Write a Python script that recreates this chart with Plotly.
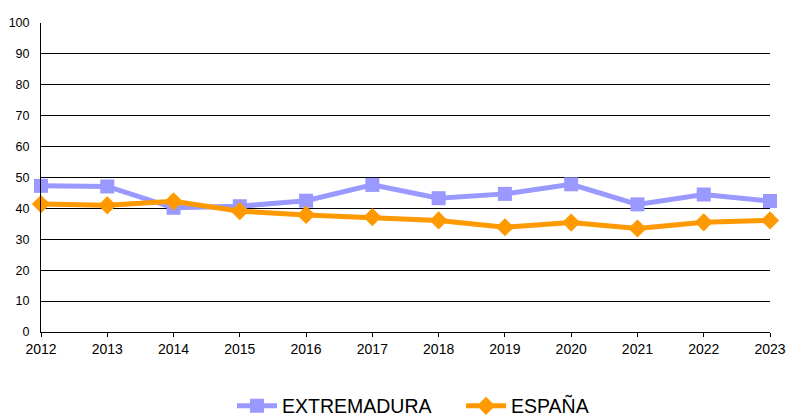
import plotly.graph_objects as go

years = [2012, 2013, 2014, 2015, 2016, 2017, 2018, 2019, 2020, 2021, 2022, 2023]
extremadura = [47.3, 47.1, 40.2, 40.7, 42.5, 47.6, 43.3, 44.7, 47.8, 41.3, 44.5, 42.4]
espana = [41.4, 41.0, 42.3, 39.1, 37.9, 37.2, 36.1, 33.9, 35.4, 33.5, 35.5, 36.1]
y_ticks = list(range(0, 101, 10))

FONT = "Liberation Sans, Arial, sans-serif"

fig = go.Figure()
fig.add_trace(go.Scatter(
    x=years, y=extremadura, name="EXTREMADURA", mode="lines+markers",
    line=dict(color="#9999FF", width=5),
    marker=dict(symbol="square", size=14, color="#9999FF"),
    cliponaxis=False,
))
fig.add_trace(go.Scatter(
    x=years, y=espana, name="ESPAÑA", mode="lines+markers",
    line=dict(color="#FF9900", width=5),
    marker=dict(symbol="diamond", size=14, color="#FF9900"),
    cliponaxis=False,
))

fig.update_layout(
    width=789, height=416,
    margin=dict(l=41, r=19, t=23, b=84, autoexpand=False),
    paper_bgcolor="white", plot_bgcolor="white",
    font=dict(family=FONT, color="black"),
    showlegend=True,
    legend=dict(orientation="h", x=0.262, xanchor="left", y=-0.24, yanchor="middle",
                font=dict(size=19.5, family=FONT), itemwidth=40, tracegroupgap=0,
                entrywidth=174),
    xaxis=dict(
        range=[2012, 2023], tickmode="array", tickvals=years, ticktext=[str(y) for y in years],
        showgrid=False, showline=True, linecolor="black", linewidth=1,
        ticks="outside", ticklen=4, tickcolor="black", tickfont=dict(size=14),
        zeroline=False, automargin=False,
    ),
    yaxis=dict(
        range=[0, 100], tickmode="array", tickvals=y_ticks,
        showgrid=True, gridcolor="black", gridwidth=1,
        showline=True, linecolor="black", linewidth=1,
        ticks="", tickfont=dict(size=12.5), zeroline=False, automargin=False,
        ticklabelstandoff=8,
    ),
)

fig.write_html(
    "out.html",
    config={"displayModeBar": False},
    post_script="document.body.style.margin='0';document.body.style.padding='0';document.body.style.overflow='hidden';",
)
